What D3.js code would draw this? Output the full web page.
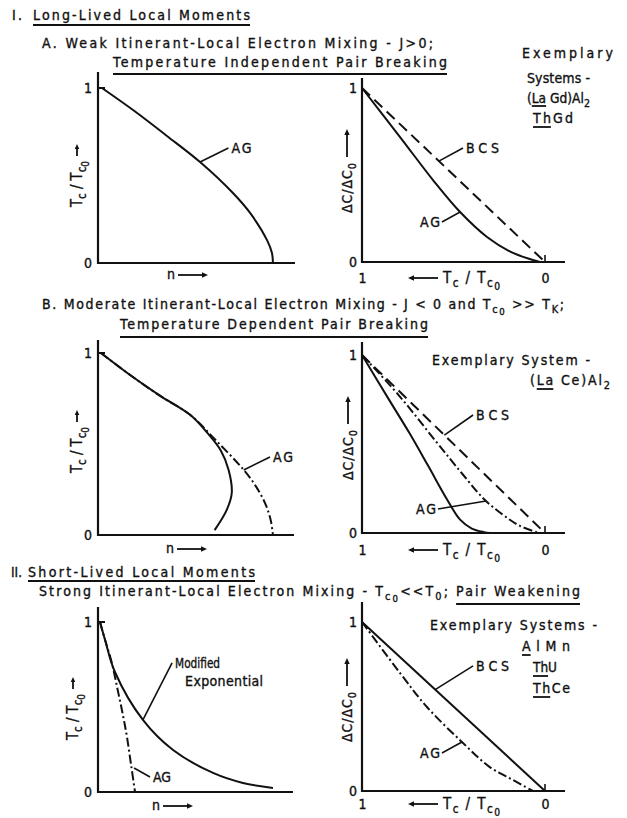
<!DOCTYPE html>
<html>
<head>
<meta charset="utf-8">
<script src="https://cdn.jsdelivr.net/npm/d3@7"></script>
<style>
  html, body { margin: 0; padding: 0; background: #fff; }
  svg text {
    font-family: "DejaVu Sans Condensed", "Liberation Sans Narrow", "DejaVu Sans", sans-serif;
    font-stretch: condensed;
    fill: #111;
    stroke: #111;
    stroke-width: 0.35px;
  }
</style>
</head>
<body>
<svg id="fig" width="627" height="818"></svg>
<script>
// ---------- data ----------
// Left panels: [n, Tc/Tc0]; right panels: [Tc/Tc0, ΔC/ΔC0]
const agWeakTc = [[0.02,1],[0.178,0.874],[0.35,0.726],[0.518,0.577],[0.685,0.4],[0.772,0.286],[0.858,0.131],[0.883,0.057],[0.888,0]];
const agWeakHeat = [[1,1],[0.792,0.718],[0.612,0.471],[0.464,0.287],[0.317,0.144],[0.175,0.052],[0.027,0]];
const bcsHeat = [[1,1],[0,0]];

const reentrantTc = [[0.015,1],[0.163,0.879],[0.316,0.764],[0.469,0.659],[0.556,0.56],[0.622,0.467],[0.663,0.357],[0.679,0.231],[0.653,0.137],[0.592,0.027]];
const agModerateTc = [[0.015,1],[0.163,0.879],[0.316,0.764],[0.469,0.659],[0.597,0.522],[0.74,0.357],[0.8,0.27],[0.85,0.17],[0.877,0.08],[0.888,0]];
const reentrantHeat = [[1,1],[0.85,0.745],[0.74,0.56],[0.64,0.38],[0.536,0.19],[0.464,0.075],[0.4,0.025],[0.333,0.005],[0.3,0]];
const agModerateHeat = [[1,1],[0.8,0.775],[0.6,0.52],[0.45,0.33],[0.328,0.185],[0.2,0.08],[0.137,0.04],[0.05,0.006],[0.03,0]];

const modExpTc = [[0.01,1],[0.036,0.894],[0.086,0.706],[0.228,0.424],[0.381,0.247],[0.584,0.112],[0.736,0.053],[0.888,0.024]];
const agStrongTc = [[0.01,1],[0.036,0.894],[0.07,0.76],[0.1,0.6],[0.127,0.45],[0.147,0.324],[0.168,0.159],[0.188,0]];
const agStrongHeat = [[1,1],[0.792,0.698],[0.645,0.497],[0.454,0.29],[0.3,0.14],[0.175,0.065],[0.066,0]];

const yTicks = [0, 1];
const tTicks = [1, 0];

// ---------- layout ----------
const FS = 14;
const INK = "#111";
const svg = d3.select("#fig");

const panels = {
  aL: { kind: "n", xr: [98, 295], yr: [263, 88], top: 72, end: 295, ylab: [82, 207], nlab: [167, 279] },
  aR: { kind: "t", xr: [362, 545], yr: [262, 88], top: 78, end: 565, ylab: [352, 213], tlab: 283 },
  bL: { kind: "n", xr: [98, 295], yr: [535, 353], top: 340, end: 294, ylab: [82, 473], nlab: [166, 553] },
  bR: { kind: "t", xr: [362, 545], yr: [533, 355], top: 342, end: 565, ylab: [353, 480], tlab: 555 },
  cL: { kind: "n", xr: [98, 295], yr: [792, 622], top: 607, end: 293, ylab: [78, 740], nlab: [152, 810] },
  cR: { kind: "t", xr: [362, 545], yr: [791, 622], top: 602, end: 565, ylab: [352, 742], tlab: 809 }
};

Object.values(panels).forEach(p => {
  p.x = d3.scaleLinear().domain(p.kind === "n" ? [0, 1] : [1, 0]).range(p.xr);
  p.y = d3.scaleLinear().domain([0, 1]).range(p.yr);
  p.g = svg.append("g");
});

// ---------- helpers ----------
// stretch or squeeze a text run to a given width
function fit(t, len) {
  const natural = t.node().getComputedTextLength();
  t.attr("textLength", len).attr("lengthAdjust", natural > len ? "spacingAndGlyphs" : "spacing");
}

function rich(sel, parts, fs) {
  // parts: string or [text, subLevel, underline]
  let cur = 0, idx = 0;
  const marks = [];
  parts.forEach(p => {
    const [t, lvl, ul] = typeof p === "string" ? [p, 0, false] : [p[0], p[1] || 0, !!p[2]];
    const target = lvl === 0 ? 0 : (lvl === 1 ? fs * 0.28 : fs * 0.45);
    const ts = sel.append("tspan").text(t).attr("dy", target - cur);
    if (lvl > 0) ts.attr("font-size", lvl === 1 ? fs * 0.78 : fs * 0.68);
    cur = target;
    if (ul) marks.push([idx, idx + t.length - 1]);
    idx += t.length;
  });
  return marks;
}

function label(x, y, parts, opts = {}) {
  const fs = opts.fs || FS;
  const t = svg.append("text").attr("x", x).attr("y", y).attr("font-size", fs)
    .attr("text-anchor", opts.anchor || "start");
  const marks = rich(t, parts, fs);
  if (opts.len) fit(t, opts.len);
  if (opts.ul !== undefined) {
    const node = t.node();
    marks.forEach(([a, b]) => {
      const x1 = node.getStartPositionOfChar(a).x;
      const x2 = node.getEndPositionOfChar(b).x;
      svg.append("line").attr("x1", x1).attr("x2", x2).attr("y1", opts.ul).attr("y2", opts.ul)
        .attr("stroke", INK).attr("stroke-width", 1.8);
    });
  }
  return t;
}

function arrow(g, x1, y1, x2, y2, head = 5) {
  const a = Math.atan2(y2 - y1, x2 - x1);
  g.append("line").attr("x1", x1).attr("y1", y1).attr("x2", x2 - Math.cos(a) * head * 0.6).attr("y2", y2 - Math.sin(a) * head * 0.6)
    .attr("stroke", INK).attr("stroke-width", 1.8);
  const p = [
    [x2, y2],
    [x2 - head * Math.cos(a) + head * 0.45 * Math.sin(a), y2 - head * Math.sin(a) - head * 0.45 * Math.cos(a)],
    [x2 - head * Math.cos(a) - head * 0.45 * Math.sin(a), y2 - head * Math.sin(a) + head * 0.45 * Math.cos(a)]
  ];
  g.append("path").attr("d", "M" + p.map(q => q.join(",")).join("L") + "Z").attr("fill", INK);
}

const lineGen = p => d3.line().x(d => p.x(d[0])).y(d => p.y(d[1])).curve(d3.curveCatmullRom.alpha(0.5));

const STYLE = {
  solid: null,
  dashed: "11,6",
  dashdot: "9,3,2,3"
};

function curve(p, data, style) {
  p.g.append("path").datum(data).attr("d", lineGen(p))
    .attr("fill", "none").attr("stroke", INK).attr("stroke-width", 2)
    .attr("stroke-linejoin", "round")
    .attr("stroke-dasharray", STYLE[style]);
}

function annotate(p, anchorPt, tipPt, lines, side) {
  const ax = p.x(anchorPt[0]), ay = p.y(anchorPt[1]);
  const tx = p.x(tipPt[0]), ty = p.y(tipPt[1]);
  p.g.append("line").attr("x1", ax).attr("y1", ay).attr("x2", tx).attr("y2", ty)
    .attr("stroke", INK).attr("stroke-width", 1.6);
  lines.forEach((ln, i) => {
    const t = p.g.append("text")
      .attr("x", side === "end" ? tx - 2 : tx + 3 + (ln.dx || 0))
      .attr("y", ty + 5 + i * 18)
      .attr("font-size", FS)
      .attr("text-anchor", side)
      .text(ln.text);
    if (ln.len) fit(t, ln.len);
  });
}

// ---------- axes ----------
Object.values(panels).forEach(p => {
  const g = p.g;
  const x0 = p.kind === "n" ? p.x(0) : p.x(1);
  // axis lines
  g.append("line").attr("x1", x0).attr("x2", x0).attr("y1", p.top).attr("y2", p.y(0) + 1)
    .attr("stroke", INK).attr("stroke-width", 2.2);
  g.append("line").attr("x1", x0 - 1).attr("x2", p.end).attr("y1", p.y(0)).attr("y2", p.y(0))
    .attr("stroke", INK).attr("stroke-width", 2.2);

  // y tick labels
  const ya = d3.axisLeft(p.y).tickValues(yTicks).tickFormat(d3.format("d")).tickSize(0).tickPadding(p.kind === "n" ? 6 : 5);
  const yg = g.append("g").attr("transform", `translate(${x0},0)`).call(ya);
  yg.select(".domain").remove();
  yg.selectAll("text").attr("font-size", FS).attr("font-family", null);

  if (p.kind === "n") {
    // inward tick at unity
    g.append("line").attr("x1", x0).attr("x2", x0 + 7).attr("y1", p.y(1)).attr("y2", p.y(1))
      .attr("stroke", INK).attr("stroke-width", 2);
    // n ⟶
    g.append("text").attr("x", p.nlab[0]).attr("y", p.nlab[1]).attr("font-size", FS).text("n");
    arrow(g, p.nlab[0] + 11, p.nlab[1] - 4, p.nlab[0] + 41, p.nlab[1] - 4, 6);
    // rotated Tc/Tc0 label
    const rg = g.append("g").attr("transform", `translate(${p.ylab[0]},${p.ylab[1]}) rotate(-90)`);
    const rt = rg.append("text").attr("x", 0).attr("y", 0).attr("font-size", FS + 1);
    rich(rt, ["T", ["c", 1], " / T", ["c", 1], ["0", 2]], FS + 1);
    fit(rt, 46);
    arrow(rg, 51, -5, 63, -5, 5);
  } else {
    // small tick at Tc/Tc0 = 0
    g.append("line").attr("x1", p.x(0)).attr("x2", p.x(0)).attr("y1", p.y(0)).attr("y2", p.y(0) - 7)
      .attr("stroke", INK).attr("stroke-width", 1.6);
    // bottom labels 1 ... 0
    const xa = d3.axisBottom(p.x).tickValues(tTicks).tickFormat(d3.format("d")).tickSize(0).tickPadding(p.tlab - p.y(0) - 10);
    const xg = g.append("g").attr("transform", `translate(0,${p.y(0)})`).call(xa);
    xg.select(".domain").remove();
    xg.selectAll("text").attr("font-size", FS).attr("font-family", null);
    // ⟵ Tc/Tc0
    arrow(g, 438, p.tlab - 5, 408, p.tlab - 5, 6);
    const bt = g.append("text").attr("x", 443).attr("y", p.tlab).attr("font-size", FS + 1);
    rich(bt, ["T", ["c", 1], " / T", ["c", 1], ["0", 2]], FS + 1);
    fit(bt, 57);
    // rotated ΔC/ΔC0 label
    const rg = g.append("g").attr("transform", `translate(${p.ylab[0]},${p.ylab[1]}) rotate(-90)`);
    const rt = rg.append("text").attr("x", 0).attr("y", 0).attr("font-size", FS);
    rich(rt, ["ΔC/ΔC", ["0", 1]], FS);
    fit(rt, 50);
    arrow(rg, 56, -5, 84, -5, 6);
  }
});

// ---------- curves ----------
curve(panels.aL, agWeakTc, "solid");
curve(panels.aR, bcsHeat, "dashed");
curve(panels.aR, agWeakHeat, "solid");

curve(panels.bL, agModerateTc, "dashdot");
curve(panels.bL, reentrantTc, "solid");
curve(panels.bR, bcsHeat, "dashed");
curve(panels.bR, agModerateHeat, "dashdot");
curve(panels.bR, reentrantHeat, "solid");

curve(panels.cL, agStrongTc, "dashdot");
curve(panels.cL, modExpTc, "solid");
curve(panels.cR, bcsHeat, "solid");
curve(panels.cR, agStrongHeat, "dashdot");

// ---------- curve annotations ----------
annotate(panels.aL, [0.518, 0.577], [0.662, 0.657], [{ text: "AG", len: 20 }], "start");
annotate(panels.aR, [0.58, 0.58], [0.448, 0.655], [{ text: "BCS", len: 33 }], "start");
annotate(panels.aR, [0.464, 0.287], [0.563, 0.23], [{ text: "AG", len: 20 }], "end");

annotate(panels.bL, [0.74, 0.357], [0.873, 0.429], [{ text: "AG", len: 20 }], "start");
annotate(panels.bR, [0.55, 0.55], [0.393, 0.663], [{ text: "BCS", len: 33 }], "start");
annotate(panels.bR, [0.322, 0.18], [0.585, 0.135], [{ text: "AG", len: 20 }], "end");

annotate(panels.cL, [0.228, 0.424], [0.376, 0.76], [{ text: "Modified", len: 45 }, { text: "Exponential", len: 78, dx: 10 }], "start");
annotate(panels.cL, [0.183, 0.141], [0.264, 0.088], [{ text: "AG", len: 18 }], "start");
annotate(panels.cR, [0.6, 0.6], [0.393, 0.74], [{ text: "BCS", len: 33 }], "start");
annotate(panels.cR, [0.454, 0.29], [0.563, 0.225], [{ text: "AG", len: 20 }], "end");

// ---------- headings and system lists ----------
label(12, 20, ["I."], { len: 10 });
label(33, 20, [["Long-Lived Local Moments", 0, true]], { len: 217, ul: 25 });
label(42, 48, ["A. Weak Itinerant-Local Electron Mixing - J>0;"], { len: 391 });
label(113, 67, [["Temperature Independent Pair Breaking", 0, true]], { len: 334, ul: 74 });

label(522, 58, ["Exemplary"], { len: 91 });
label(527, 83, ["Systems -"], { len: 63 });
label(527, 103, ["(", ["La", 0, true], " Gd)Al", ["2", 1]], { len: 63, ul: 106 });
label(533, 123, [["Th", 0, true], "Gd"], { len: 40, ul: 127 });

label(42, 309, ["B. Moderate Itinerant-Local Electron Mixing - J < 0 and T", ["c", 1], ["0", 2], " >> T", ["K", 1], ";"], { len: 522 });
label(120, 329, [["Temperature Dependent Pair Breaking", 0, true]], { len: 308, ul: 337 });
label(432, 365, ["Exemplary System -"], { len: 158 });
label(530, 385, ["(", ["La", 0, true], " Ce)Al", ["2", 1]], { len: 80, ul: 389 });

label(11, 577, ["II."], { len: 11 });
label(28, 577, [["Short-Lived Local Moments", 0, true]], { len: 227, ul: 581 });
label(39, 596, ["Strong Itinerant-Local Electron Mixing - T", ["c", 1], ["0", 2], "<<T", ["0", 1], "; ", ["Pair Weakening", 0, true]], { len: 541, ul: 604 });
label(430, 630, ["Exemplary Systems -"], { len: 167 });
label(522, 651, [["A", 0, true], "lMn"], { len: 48, ul: 655 });
label(533, 672, [["Th", 0, true], "U"], { len: 24, ul: 676 });
label(533, 693, [["Th", 0, true], "Ce"], { len: 37, ul: 697 });
</script>
</body>
</html>
